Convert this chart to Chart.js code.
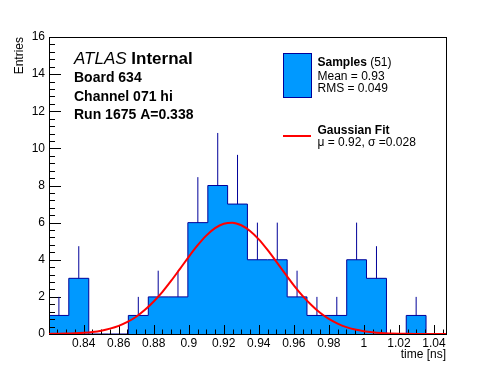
<!DOCTYPE HTML>
<html lang="en">
<head>
<meta charset="UTF-8">
<title>Board 634 Channel 071 hi</title>
<script src="https://cdn.jsdelivr.net/npm/chart.js@4.4.0/dist/chart.umd.min.js"></script>
<style>
body { margin: 0; background: #fff; }
</style>
</head>
<body>
<div style="width:496px;height:372px">
    <canvas id="mychart" width="496" height="372"></canvas>
</div>

<script>
// histogram binning [ns] and contents
var binEdges = [0.8202, 0.8315, 0.8429, 0.8542, 0.8655, 0.8769, 0.8882, 0.8995, 0.9109, 0.9222,
                0.9335, 0.9449, 0.9562, 0.9675, 0.9789, 0.9902, 1.0015, 1.0129, 1.0242, 1.0355, 1.0469];
var binCounts = [1, 3, 0, 0, 1, 2, 2, 6, 8, 7, 4, 4, 2, 1, 1, 4, 3, 0, 1, 0];
var binErrors = [1, 1.73, 0, 0, 1, 1.41, 1.41, 2.45, 2.83, 2.65, 2, 2, 1.41, 1, 1, 2, 1.73, 0, 1, 0];

// gaussian fit curve
var fitX = [0.820, 0.825, 0.830, 0.835, 0.840, 0.845, 0.850, 0.855, 0.860, 0.865, 0.870, 0.875,
            0.880, 0.885, 0.890, 0.895, 0.900, 0.905, 0.910, 0.915, 0.920, 0.925, 0.930, 0.935,
            0.940, 0.945, 0.950, 0.955, 0.960, 0.965, 0.970, 0.975, 0.980, 0.985, 0.990, 0.995,
            1.000, 1.005, 1.010, 1.015, 1.020, 1.025, 1.030, 1.035, 1.040, 1.045, 1.050];
var fitY = [0.006, 0.012, 0.021, 0.038, 0.067, 0.11, 0.18, 0.29, 0.44, 0.65, 0.93, 1.30,
            1.75, 2.27, 2.87, 3.51, 4.16, 4.77, 5.30, 5.70, 5.94, 6.00, 5.86, 5.55,
            5.10, 4.53, 3.90, 3.25, 2.62, 2.05, 1.56, 1.14, 0.81, 0.56, 0.37, 0.24,
            0.15, 0.09, 0.05, 0.03, 0.017, 0.009, 0.005, 0.002, 0.001, 0, 0];

var xTicks = [0.84, 0.86, 0.88, 0.9, 0.92, 0.94, 0.96, 0.98, 1, 1.02, 1.04];
var yTicks = [0, 2, 4, 6, 8, 10, 12, 14, 16];

var fontName = '"Liberation Sans", Arial, Helvetica, sans-serif';
var histFill = '#0099ff';
var histLine = '#000099';

// histogram as a stepped line: one point per left edge plus the last edge
var histData = binEdges.map(function(e, i) {
    return {x: e, y: binCounts[Math.min(i, binCounts.length - 1)]};
});

// error bars: vertical segment above each filled bin, broken with nulls
var errData = [];
binCounts.forEach(function(n, i) {
    if (binErrors[i] <= 0) return;
    var c = (binEdges[i] + binEdges[i + 1]) / 2;
    errData.push({x: c, y: n}, {x: c, y: n + binErrors[i]}, {x: c, y: null});
});

var fitData = fitX.map(function(x, i) { return {x: x, y: fitY[i]}; });

// frame + ROOT style inner ticks, drawn right after the histogram
var rootAxes = {
    id: 'rootAxes',
    afterDatasetDraw: function(chart, args) {
        if (args.index !== 2) return;
        var ctx = chart.ctx, a = chart.chartArea;
        var xs = chart.scales.x, ys = chart.scales.y;
        ctx.save();
        ctx.strokeStyle = '#000';
        ctx.lineWidth = 1;
        ctx.beginPath();
        for (var i = 0; i <= 40; i++) {
            var py = Math.round(ys.getPixelForValue(i * 0.4)) + 0.5;
            ctx.moveTo(a.left, py);
            ctx.lineTo(a.left + (i % 5 == 0 ? 12 : 6), py);
        }
        for (var j = 165; j <= 209; j++) {
            var px = Math.round(xs.getPixelForValue(j * 0.005)) + 0.5;
            ctx.moveTo(px, a.bottom);
            ctx.lineTo(px, a.bottom - (j % 4 == 0 ? 9 : 4.5));
        }
        ctx.stroke();
        ctx.strokeRect(a.left + 0.5, a.top + 0.5, a.right - a.left, a.bottom - a.top);
        ctx.restore();
    }
};

// titles, labels and legend
var rootText = {
    id: 'rootText',
    afterDraw: function(chart) {
        var ctx = chart.ctx, a = chart.chartArea;
        ctx.save();
        ctx.fillStyle = '#000';
        ctx.textBaseline = 'alphabetic';
        ctx.textAlign = 'left';

        ctx.font = 'italic 17px ' + fontName;
        ctx.fillText('ATLAS', 74, 64);
        var w = ctx.measureText('ATLAS ').width;
        ctx.font = 'bold 17px ' + fontName;
        ctx.fillText('Internal', 74 + w, 64);

        ctx.font = 'bold 14px ' + fontName;
        ctx.fillText('Board 634', 74, 81.5);
        ctx.fillText('Channel 071 hi', 74, 100.5);
        ctx.fillText('Run 1675 A=0.338', 74, 119);

        // axis titles
        ctx.font = '12px ' + fontName;
        ctx.textAlign = 'right';
        ctx.fillText('time [ns]', a.right, 358);
        ctx.save();
        ctx.translate(22.5, a.top);
        ctx.rotate(-Math.PI / 2);
        ctx.fillText('Entries', 0, 0);
        ctx.restore();

        // legend
        ctx.fillStyle = histFill;
        ctx.fillRect(283, 53, 28, 44);
        ctx.strokeStyle = histLine;
        ctx.lineWidth = 1;
        ctx.strokeRect(283.5, 53.5, 28, 44);
        ctx.strokeStyle = '#ff0000';
        ctx.lineWidth = 2;
        ctx.beginPath();
        ctx.moveTo(283, 136);
        ctx.lineTo(311, 136);
        ctx.stroke();

        ctx.fillStyle = '#000';
        ctx.textAlign = 'left';
        ctx.font = 'bold 12px ' + fontName;
        ctx.fillText('Samples', 317.5, 65.5);
        w = ctx.measureText('Samples').width;
        ctx.font = '12px ' + fontName;
        ctx.fillText(' (51)', 317.5 + w, 65.5);
        ctx.fillText('Mean = 0.93', 317.5, 80);
        ctx.fillText('RMS = 0.049', 317.5, 92);
        ctx.font = 'bold 12px ' + fontName;
        ctx.fillText('Gaussian Fit', 317.5, 133.5);
        ctx.font = '12px ' + fontName;
        ctx.fillText('\u03bc = 0.92, \u03c3 =0.028', 317.5, 145.5);
        ctx.restore();
    }
};

Chart.defaults.font.family = fontName;
Chart.defaults.font.size = 12;
Chart.defaults.color = '#000';

var chart = new Chart(document.getElementById('mychart'), {
    type: 'line',
    data: {
        datasets: [{
            label: 'Gaussian Fit',
            data: fitData,
            borderColor: '#ff0000',
            borderWidth: 2,
            pointRadius: 0,
            fill: false,
            cubicInterpolationMode: 'monotone'
        }, {
            label: 'errors',
            data: errData,
            borderColor: histLine,
            borderWidth: 1,
            pointRadius: 0,
            fill: false,
            spanGaps: false
        }, {
            label: 'Samples',
            data: histData,
            stepped: true,
            borderColor: histLine,
            borderWidth: 1,
            backgroundColor: histFill,
            pointRadius: 0,
            fill: 'origin'
        }]
    },
    options: {
        responsive: false,
        animation: false,
        devicePixelRatio: 1,
        layout: { padding: { top: 37, right: 50, left: 0, bottom: 0 } },
        plugins: { legend: { display: false }, tooltip: { enabled: false } },
        scales: {
            x: {
                type: 'linear',
                min: binEdges[0],
                max: binEdges[binEdges.length - 1],
                grid: { display: false, drawTicks: false },
                border: { display: false },
                ticks: {
                    padding: 2,
                    maxRotation: 0,
                    autoSkip: false,
                    callback: function(v) { return String(+v.toFixed(2)); }
                },
                afterBuildTicks: function(s) { s.ticks = xTicks.map(function(v) { return {value: v}; }); },
                afterFit: function(s) { s.height = 38; }
            },
            y: {
                min: 0,
                max: 16,
                grid: { display: false, drawTicks: false },
                border: { display: false },
                ticks: { padding: 4, autoSkip: false },
                afterBuildTicks: function(s) { s.ticks = yTicks.map(function(v) { return {value: v}; }); },
                afterFit: function(s) { s.width = 49; }
            }
        }
    },
    plugins: [rootAxes, rootText]
});
</script>
</body>
</html>
